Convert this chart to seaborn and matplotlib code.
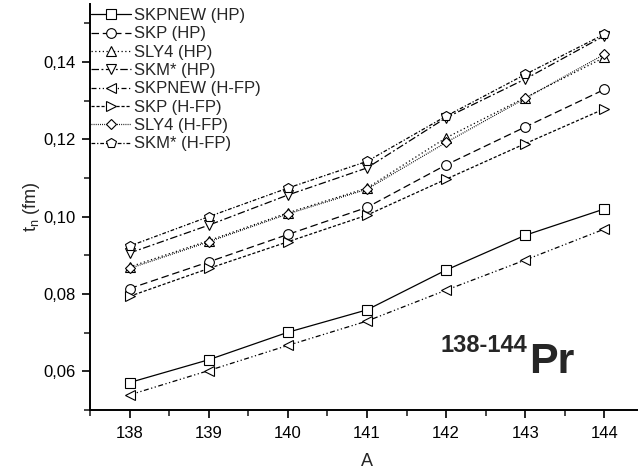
import numpy as np
import pandas as pd
import seaborn as sns
import matplotlib
matplotlib.use("Agg")
import matplotlib.pyplot as plt
from matplotlib.ticker import MultipleLocator, FuncFormatter

# Mass numbers of the Pr isotopes
mass_numbers = [138, 139, 140, 141, 142, 143, 144]

# Neutron skin thickness t_n (fm) for each Skyrme force / model
skpnew_hp = [0.0571, 0.0630, 0.0701, 0.0759, 0.0862, 0.0952, 0.1020]
skp_hp = [0.0814, 0.0883, 0.0954, 0.1024, 0.1134, 0.1232, 0.1329]
sly4_hp = [0.0870, 0.0938, 0.1010, 0.1074, 0.1204, 0.1308, 0.1412]
skm_hp = [0.0906, 0.0978, 0.1056, 0.1126, 0.1256, 0.1356, 0.1468]
skpnew_hfp = [0.0539, 0.0602, 0.0667, 0.0730, 0.0810, 0.0888, 0.0968]
skp_hfp = [0.0794, 0.0866, 0.0935, 0.1004, 0.1097, 0.1189, 0.1279]
sly4_hfp = [0.0866, 0.0935, 0.1007, 0.1071, 0.1192, 0.1306, 0.1420]
skm_hfp = [0.0924, 0.1000, 0.1074, 0.1143, 0.1260, 0.1368, 0.1472]

series_labels = ["SKPNEW (HP)", "SKP (HP)", "SLY4 (HP)", "SKM* (HP)",
                 "SKPNEW (H-FP)", "SKP (H-FP)", "SLY4 (H-FP)", "SKM* (H-FP)"]
series_values = [skpnew_hp, skp_hp, sly4_hp, skm_hp,
                 skpnew_hfp, skp_hfp, sly4_hfp, skm_hfp]

markers = ["s", "o", "^", "v", "<", ">", "D", "p"]
line_styles = ["-", (0, (6, 3)), (0, (1, 2)), (0, (6, 2, 1.5, 2)),
               (0, (4, 2, 1, 2, 1, 2)), (0, (2.5, 1.5)), (0, (0.7, 1)),
               (0, (3, 1.5, 1, 1.5))]
marker_sizes = [6.5, 7, 7, 7, 7, 7, 5.5, 7.5]

sns.set_style("ticks")
plt.rcParams["font.family"] = ["Liberation Sans", "DejaVu Sans"]

fig = plt.figure(figsize=(6.38, 4.74), dpi=100)
ax = fig.add_axes([90 / 638, 64 / 474, 554 / 638, 406 / 474])

for label, vals, mk, ls, ms in zip(series_labels, series_values, markers,
                                   line_styles, marker_sizes):
    df = pd.DataFrame({"A": mass_numbers, "t": vals})
    sns.lineplot(data=df, x="A", y="t", ax=ax, color="black", marker=mk,
                 linestyle=ls, linewidth=0.9, markersize=ms,
                 markerfacecolor="white", markeredgecolor="black",
                 markeredgewidth=0.8, label=label)

ax.set_xlim(137.5, 144.5)
ax.set_ylim(0.050, 0.155)
ax.xaxis.set_major_locator(MultipleLocator(1))
ax.xaxis.set_minor_locator(MultipleLocator(0.5))
ax.yaxis.set_major_locator(MultipleLocator(0.02))
ax.yaxis.set_minor_locator(MultipleLocator(0.01))
ax.yaxis.set_major_formatter(FuncFormatter(lambda v, p: f"{v:.2f}".replace(".", ",")))
ax.xaxis.set_major_formatter(FuncFormatter(lambda v, p: f"{int(round(v))}"))

for s in ["top", "right"]:
    ax.spines[s].set_visible(False)
for s in ["left", "bottom"]:
    ax.spines[s].set_linewidth(1.4)
    ax.spines[s].set_color("black")

ax.tick_params(axis="both", which="major", direction="out", length=6,
               width=1.2, labelsize=12, colors="black", pad=4)
ax.tick_params(axis="x", which="major", pad=5.5)
ax.tick_params(axis="both", which="minor", direction="out", length=4,
               width=1.2)

ax.set_xlabel("A", fontsize=13, labelpad=9)
ax.set_ylabel(r"t$_\mathregular{n}$ (fm)", fontsize=13, labelpad=1)

ax.legend(loc="upper left", bbox_to_anchor=(91 / 638, 1 - 8 / 474),
          bbox_transform=fig.transFigure, frameon=False, fontsize=12,
          handlelength=2.4, handletextpad=0.2, labelspacing=0.2,
          borderpad=0, borderaxespad=0, numpoints=1)

fig.text(440 / 638, 1 - 352 / 474, "138-144", fontsize=17, fontweight="bold",
         ha="left", va="baseline")
fig.text(529 / 638, 1 - 373 / 474, "Pr", fontsize=31, fontweight="bold",
         ha="left", va="baseline")

fig.savefig("out.png", dpi=100)
